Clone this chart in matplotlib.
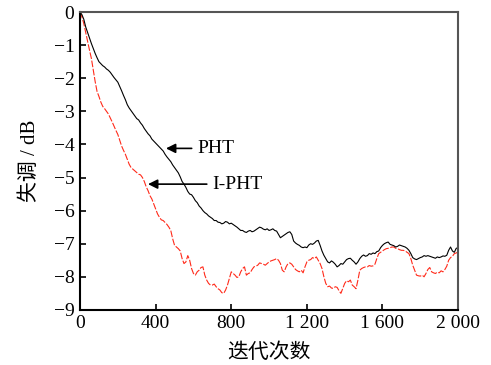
import matplotlib
matplotlib.use("Agg")
import matplotlib.pyplot as plt
import numpy as np

plt.rcParams['font.family'] = ['Liberation Serif', 'Noto Sans CJK SC']
plt.rcParams['axes.unicode_minus'] = True

# iterations, sampled every 10
iters = np.arange(0, 2001, 10)

# PHT misalignment (dB), one row = 100 iterations
pht = [0, -0.08, -0.22, -0.45, -0.62, -0.8, -0.95, -1.1, -1.25, -1.38,
       -1.5, -1.56, -1.62, -1.66, -1.72, -1.76, -1.82, -1.9, -1.98, -2.05,
       -2.12, -2.25, -2.38, -2.52, -2.65, -2.8, -2.9, -2.98, -3.06, -3.14,
       -3.22, -3.26, -3.35, -3.42, -3.52, -3.6, -3.68, -3.74, -3.84, -3.9,
       -3.96, -4.02, -4.08, -4.14, -4.2, -4.3, -4.38, -4.45, -4.52, -4.62,
       -4.7, -4.78, -4.86, -4.98, -5.12, -5.2, -5.3, -5.42, -5.5, -5.52,
       -5.6, -5.7, -5.76, -5.86, -5.92, -6.0, -6.06, -6.1, -6.16, -6.2,
       -6.24, -6.3, -6.3, -6.35, -6.36, -6.4, -6.38, -6.33, -6.35, -6.4,
       -6.38, -6.42, -6.46, -6.5, -6.55, -6.6, -6.6, -6.64, -6.66, -6.62,
       -6.6, -6.64, -6.62, -6.58, -6.54, -6.5, -6.52, -6.56, -6.58, -6.55,
       -6.6, -6.58, -6.55, -6.6, -6.62, -6.72, -6.82, -6.78, -6.74, -6.7,
       -6.66, -6.64, -6.72, -6.92, -6.98, -7.02, -7.05, -7.1, -7.12, -7.1,
       -7.12, -7.04, -7.0, -7.02, -6.98, -6.92, -6.9, -7.05, -7.22, -7.35,
       -7.45, -7.55, -7.58, -7.52, -7.56, -7.62, -7.7, -7.66, -7.6, -7.62,
       -7.55, -7.48, -7.45, -7.44, -7.5, -7.55, -7.62, -7.55, -7.45, -7.38,
       -7.34, -7.38, -7.36, -7.3, -7.32, -7.28, -7.3, -7.24, -7.22, -7.12,
       -7.05, -7.0, -6.97, -6.95, -7.02, -7.04, -7.06, -7.1, -7.08, -7.04,
       -7.06, -7.08, -7.1, -7.14, -7.2, -7.3, -7.42, -7.46, -7.48, -7.45,
       -7.42, -7.4, -7.36, -7.38, -7.36, -7.38, -7.4, -7.42, -7.44, -7.4,
       -7.42, -7.4, -7.37, -7.38, -7.35, -7.2, -7.1, -7.22, -7.26, -7.14,
       -7.12]

# I-PHT misalignment (dB)
ipht = [0, -0.15, -0.35, -0.62, -0.9, -1.15, -1.4, -1.75, -2.1, -2.4,
        -2.55, -2.72, -2.85, -2.92, -3.0, -3.08, -3.2, -3.32, -3.45, -3.58,
        -3.7, -3.88, -4.05, -4.18, -4.3, -4.45, -4.6, -4.7, -4.75, -4.8,
        -4.85, -4.9, -4.92, -5.0, -5.12, -5.28, -5.4, -5.55, -5.65, -5.8,
        -5.95, -6.1, -6.2, -6.28, -6.3, -6.36, -6.42, -6.5, -6.6, -6.85,
        -7.05, -7.1, -7.15, -7.22, -7.45, -7.6, -7.55, -7.36, -7.5, -7.75,
        -7.9, -7.95, -7.85, -7.8, -7.72, -7.7, -7.95, -8.1, -8.2, -8.25,
        -8.25, -8.22, -8.3, -8.36, -8.4, -8.48, -8.5, -8.4, -8.25, -8.05,
        -7.85, -7.9, -7.95, -8.02, -8.0, -7.85, -7.75, -7.7, -7.95, -7.9,
        -7.88, -7.78, -7.7, -7.68, -7.65, -7.58, -7.6, -7.62, -7.65, -7.6,
        -7.55, -7.52, -7.5, -7.48, -7.45, -7.5, -7.6, -7.8, -7.85, -7.7,
        -7.6, -7.58, -7.62, -7.7, -7.78, -7.82, -7.85, -7.8, -7.88, -7.7,
        -7.55, -7.5, -7.48, -7.42, -7.45, -7.4, -7.5, -7.6, -7.75, -8.0,
        -8.2, -8.3, -8.28, -8.34, -8.35, -8.3, -8.32, -8.42, -8.5, -8.35,
        -8.2, -8.12, -8.15, -8.1, -8.25, -8.3, -8.36, -8.1, -7.8, -7.75,
        -7.72, -7.7, -7.7, -7.66, -7.68, -7.67, -7.62, -7.45, -7.3, -7.26,
        -7.22, -7.18, -7.15, -7.14, -7.12, -7.1, -7.1, -7.14, -7.15, -7.18,
        -7.2, -7.2, -7.22, -7.26, -7.3, -7.45, -7.65, -7.8, -7.95, -7.97,
        -7.98, -7.95, -8.0, -7.9, -7.78, -7.72, -7.85, -7.88, -7.9, -7.86,
        -7.88, -7.82, -7.85, -7.78, -7.68, -7.5, -7.42, -7.38, -7.3, -7.28,
        -7.25]

xticks = [0, 400, 800, 1200, 1600, 2000]
xticklabels = ['0', '400', '800', '1 200', '1 600', '2 000']
yticks = list(range(0, -10, -1))

fig = plt.figure(figsize=(4.91, 3.65), dpi=100)
ax = fig.add_axes([0.163, 0.151, 0.770, 0.816])

ax.plot(iters, ipht, color='#ff2a1a', lw=0.8, ls=(0, (6, 1.5)))
ax.plot(iters, pht, color='black', lw=0.8)

ax.set_xlim(0, 2000)
ax.set_ylim(-9, 0)
ax.set_xticks(xticks)
ax.set_xticklabels(xticklabels)
ax.set_yticks(yticks)
ax.tick_params(direction='in', length=4, width=1.2, labelsize=14, pad=4)

for s in ['left', 'bottom']:
    ax.spines[s].set_linewidth(1.5)
for s in ['top', 'right']:
    ax.spines[s].set_linewidth(1.5)
    ax.spines[s].set_color('#555555')

ax.set_xlabel('迭代次数', fontsize=15, labelpad=8)
ax.set_ylabel('失调 / dB', fontsize=15, labelpad=10)

arrow = dict(arrowstyle='-|>', color='black', lw=1.2, mutation_scale=14)
ax.annotate('PHT', xy=(440, -4.12), xytext=(620, -4.12),
            fontsize=14, va='center', arrowprops=arrow)
ax.annotate('I-PHT', xy=(345, -5.2), xytext=(700, -5.2),
            fontsize=14, va='center', arrowprops=arrow)

fig.savefig('out.png', dpi=100)
